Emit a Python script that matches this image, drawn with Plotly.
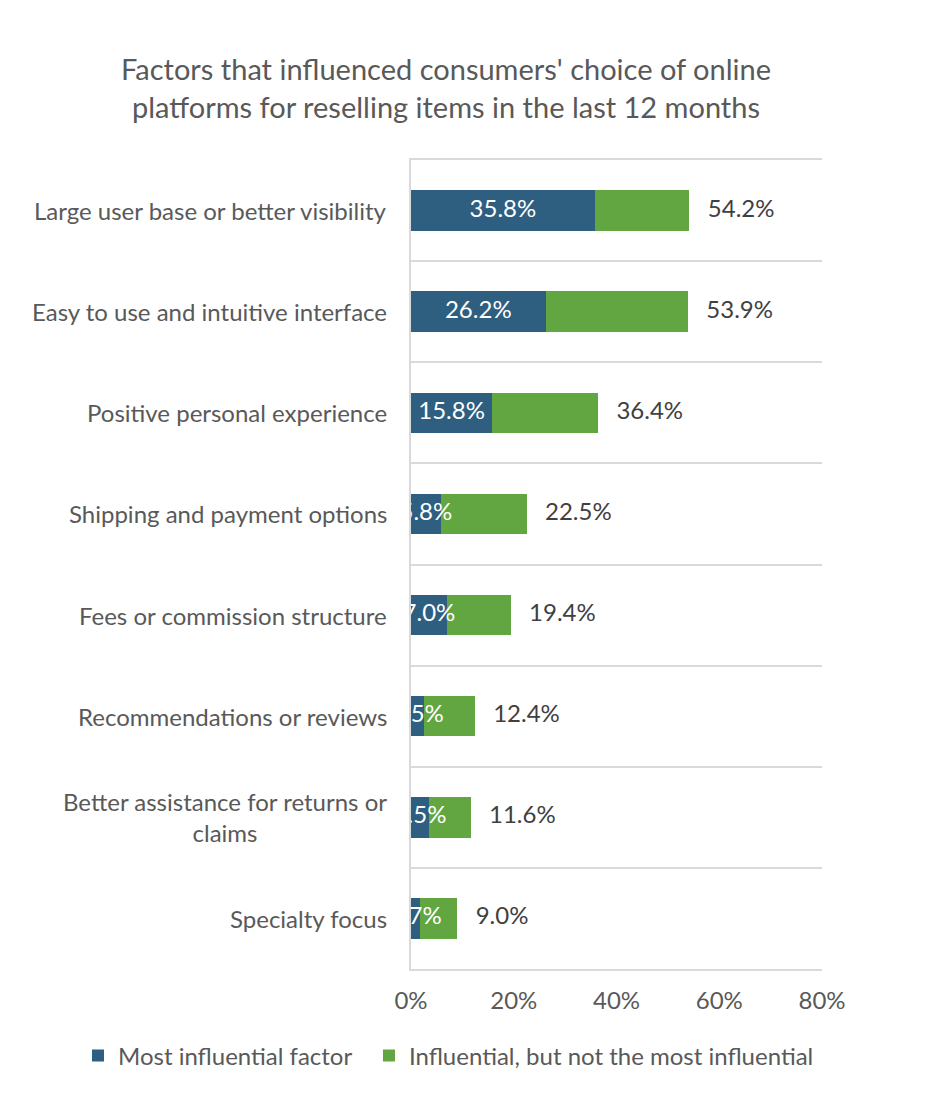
import plotly.graph_objects as go

categories = [
    "Large user base or better visibility",
    "Easy to use and intuitive interface",
    "Positive personal experience",
    "Shipping and payment options",
    "Fees or commission structure",
    "Recommendations or reviews",
    "Better assistance for returns or<br>claims",
    "Specialty focus",
]
most_influential = [35.8, 26.2, 15.8, 5.8, 7.0, 2.5, 3.5, 1.7]
total_influential = [54.2, 53.9, 36.4, 22.5, 19.4, 12.4, 11.6, 9.0]
x_ticks = [0, 20, 40, 60, 80]

# green part = total minus the most influential share
not_most = [round(t - m, 1) for t, m in zip(total_influential, most_influential)]

BLUE = "#2E5E80"
GREEN = "#62A641"
GREY_TXT = "#595959"
DARK_TXT = "#404040"
GRID = "#D9D9D9"
FONT = "Lato, 'Open Sans', sans-serif"

# page body has an 8px margin, so the figure is a bit smaller than the window
W, H = 922, 1090
L, R, T, B = 403, 108, 152, 129
plot_h = H - T - B

fig = go.Figure()

fig.add_trace(go.Bar(
    y=categories, x=most_influential, orientation="h",
    # two nbsp to widen the gap between the legend items a little
    name="Most influential factor\u00a0\u00a0",
    marker=dict(color=BLUE, line=dict(width=0)),
    hoverinfo="skip",
))
fig.add_trace(go.Bar(
    y=categories, x=not_most, orientation="h",
    name="Influential, but not the most influential",
    marker=dict(color=GREEN, line=dict(width=0)),
    hoverinfo="skip",
))

# labels in the middle of the blue part (clipped at the axis like excel)
fig.add_trace(go.Scatter(
    y=categories, x=[m / 2 for m in most_influential], mode="text",
    text=[f"{m:.1f}%" for m in most_influential],
    textfont=dict(color="white", size=24, family=FONT),
    textposition="middle center", cliponaxis=True,
    showlegend=False, hoverinfo="skip",
))

# total labels right of the bars
fig.add_trace(go.Scatter(
    y=categories, x=total_influential, mode="text",
    text=[f"   {t:.1f}%" for t in total_influential],
    textfont=dict(color=DARK_TXT, size=24, family=FONT),
    textposition="middle right", cliponaxis=False,
    showlegend=False, hoverinfo="skip",
))

# category labels as annotations so the two line label is centred
for c in categories:
    fig.add_annotation(
        x=0, xref="paper", xanchor="right", xshift=-22,
        y=c, yref="y", yanchor="middle",
        text=c, showarrow=False, align="center",
        font=dict(color=GREY_TXT, size=24, family=FONT),
    )

fig.update_layout(
    width=W, height=H,
    barmode="stack", bargap=0.6,
    plot_bgcolor="white", paper_bgcolor="white",
    margin=dict(l=L, r=R, t=T, b=B),
    font=dict(family=FONT, color=GREY_TXT, size=24),
    title=dict(
        text="Factors that influenced consumers' choice of online<br>platforms for reselling items in the last 12 months",
        x=438 / W, xanchor="center", y=1 - 72 / H, yanchor="middle",
        font=dict(size=29, color=GREY_TXT, family=FONT),
    ),
    legend=dict(
        orientation="h",
        x=(70 - L) / (W - L - R), xanchor="left",
        y=-(1048 - (H - B)) / plot_h, yanchor="middle",
        font=dict(size=24, color=GREY_TXT, family=FONT),
        traceorder="normal", itemwidth=30,
    ),
    showlegend=True,
)

fig.update_xaxes(
    range=[0, 80], tickvals=x_ticks, ticktext=[f"{v}%" for v in x_ticks],
    showgrid=False, zeroline=False, ticks="",
    showline=True, mirror=True, linecolor=GRID, linewidth=2,
    tickfont=dict(size=24, color=GREY_TXT), ticklabelstandoff=9,
    fixedrange=True,
)
fig.update_yaxes(
    type="category", categoryorder="array", categoryarray=categories,
    autorange="reversed", tickson="boundaries", showticklabels=False,
    showgrid=True, gridcolor=GRID, gridwidth=2,
    showline=True, linecolor=GRID, linewidth=2,
    ticks="", zeroline=False, fixedrange=True,
)

fig.write_html("out.html")
